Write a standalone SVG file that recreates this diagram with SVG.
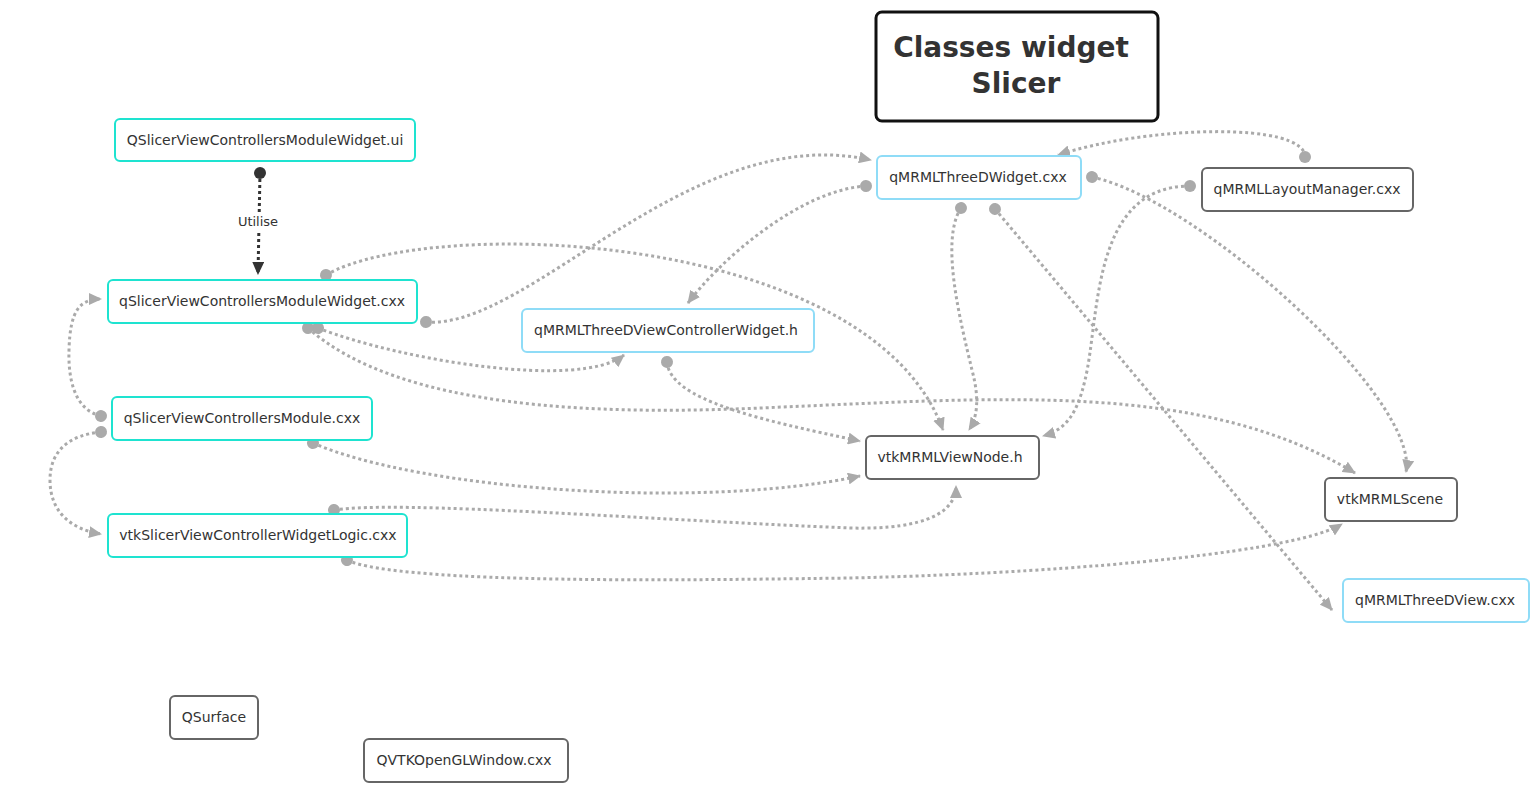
<svg xmlns="http://www.w3.org/2000/svg" width="1540" height="792" viewBox="0 0 1540 792">
<defs>
<style>
.box{fill:#fff;stroke-width:2}
.cy{stroke:#1ee3d0}
.lb{stroke:#8fdcf7}
.gr{stroke:#666}
.t{font-family:"DejaVu Sans",sans-serif;font-size:14px;fill:#333;text-anchor:middle;dominant-baseline:central}
.ttl{font-family:"DejaVu Sans",sans-serif;font-size:28px;font-weight:bold;fill:#333;text-anchor:middle}
.c{fill:none;stroke:#aaa;stroke-width:3;stroke-dasharray:3 3;marker-start:url(#dot);marker-end:url(#arr)}
.cd{fill:none;stroke:#333;stroke-width:3;stroke-dasharray:3 3;marker-start:url(#dotd);marker-end:url(#arrd)}
</style>
<marker id="arr" markerUnits="userSpaceOnUse" markerWidth="14" markerHeight="12" refX="12" refY="6" orient="auto"><path d="M0,0 L13,6 L0,12 z" fill="#aaa"/></marker>
<marker id="dot" markerUnits="userSpaceOnUse" markerWidth="14" markerHeight="14" refX="7" refY="7" orient="auto"><circle cx="7" cy="7" r="6" fill="#aaa"/></marker>
<marker id="arrd" markerUnits="userSpaceOnUse" markerWidth="14" markerHeight="12" refX="12" refY="6" orient="auto"><path d="M0,0 L13,6 L0,12 z" fill="#333"/></marker>
<marker id="dotd" markerUnits="userSpaceOnUse" markerWidth="14" markerHeight="14" refX="7" refY="7" orient="auto"><circle cx="7" cy="7" r="6" fill="#333"/></marker>
</defs>
<rect width="1540" height="792" fill="#fff"/>
<g id="connectors">
<path class="cd" d="M260,173 L258,274"/>
<rect x="236" y="212" width="44" height="18" fill="#fff"/>
<text x="258" y="221" class="t" style="font-size:13px">Utilise</text>
<path class="c" d="M326,275 C 430,215 870,230 943,430"/>
<path class="c" d="M426,322 C 530,330 690,120 871,160"/>
<path class="c" d="M866,186 C 800,190 720,260 688,303"/>
<path class="c" d="M1305,157 C 1305,122 1150,125 1058,155"/>
<path class="c" d="M1092,177 C 1200,200 1420,400 1406,472"/>
<path class="c" d="M1190,186 C 1090,186 1100,320 1085,380 C 1077,415 1065,430 1043,436"/>
<path class="c" d="M961,208 C 940,240 960,320 972,370 C 980,400 977,418 969,430"/>
<path class="c" d="M995,209 L1332,610"/>
<path class="c" d="M318,328 C 400,360 580,390 624,355"/>
<path class="c" d="M308,328 C 400,410 600,415 760,408 C 1000,398 1200,380 1355,473"/>
<path class="c" d="M667,362 C 670,400 760,420 860,441"/>
<path class="c" d="M313,443 C 420,490 700,510 860,476"/>
<path class="c" d="M334,510 C 400,500 650,520 850,528 C 930,530 956,510 956,486"/>
<path class="c" d="M347,560 C 400,585 700,580 850,578 C 1100,572 1300,550 1342,524"/>
<path class="c" d="M101,416 C 75,410 68,380 69,350 C 70,310 80,299 101,299"/>
<path class="c" d="M101,432 C 70,435 50,450 50,480 C 50,515 75,530 101,534"/>
</g>
<g id="title"><rect x="876" y="12" width="282" height="109" rx="6" fill="#fff" stroke="#111" stroke-width="3"/><text class="ttl" x="1011" y="57">Classes widget</text><text class="ttl" x="1016" y="93">Slicer</text></g>
<g id="n-ui"><rect class="box cy" x="115" y="119" width="300" height="42" rx="5"/><text class="t" x="265" y="140">QSlicerViewControllersModuleWidget.ui</text></g>
<g id="n-widgetcxx"><rect class="box cy" x="108" y="280" width="309" height="43" rx="5"/><text class="t" x="262" y="301">qSlicerViewControllersModuleWidget.cxx</text></g>
<g id="n-3dvcw"><rect class="box lb" x="522" y="309" width="292" height="43" rx="5"/><text class="t" x="666" y="330">qMRMLThreeDViewControllerWidget.h</text></g>
<g id="n-module"><rect class="box cy" x="112" y="397" width="260" height="43" rx="5"/><text class="t" x="242" y="418">qSlicerViewControllersModule.cxx</text></g>
<g id="n-logic"><rect class="box cy" x="108" y="514" width="299" height="43" rx="5"/><text class="t" x="258" y="535">vtkSlicerViewControllerWidgetLogic.cxx</text></g>
<g id="n-3dwidget"><rect class="box lb" x="877" y="156" width="204" height="43" rx="5"/><text class="t" x="978" y="177">qMRMLThreeDWidget.cxx</text></g>
<g id="n-layout"><rect class="box gr" x="1202" y="168" width="211" height="43" rx="5"/><text class="t" x="1307" y="189">qMRMLLayoutManager.cxx</text></g>
<g id="n-viewnode"><rect class="box gr" x="866" y="436" width="173" height="43" rx="5"/><text class="t" x="950" y="457">vtkMRMLViewNode.h</text></g>
<g id="n-scene"><rect class="box gr" x="1325" y="478" width="132" height="43" rx="5"/><text class="t" x="1390" y="499">vtkMRMLScene</text></g>
<g id="n-3dview"><rect class="box lb" x="1343" y="579" width="186" height="43" rx="5"/><text class="t" x="1435" y="600">qMRMLThreeDView.cxx</text></g>
<g id="n-qsurface"><rect class="box gr" x="170" y="696" width="88" height="43" rx="5"/><text class="t" x="214" y="717">QSurface</text></g>
<g id="n-qvtk"><rect class="box gr" x="364" y="739" width="204" height="43" rx="5"/><text class="t" x="464" y="760">QVTKOpenGLWindow.cxx</text></g>
</svg>
